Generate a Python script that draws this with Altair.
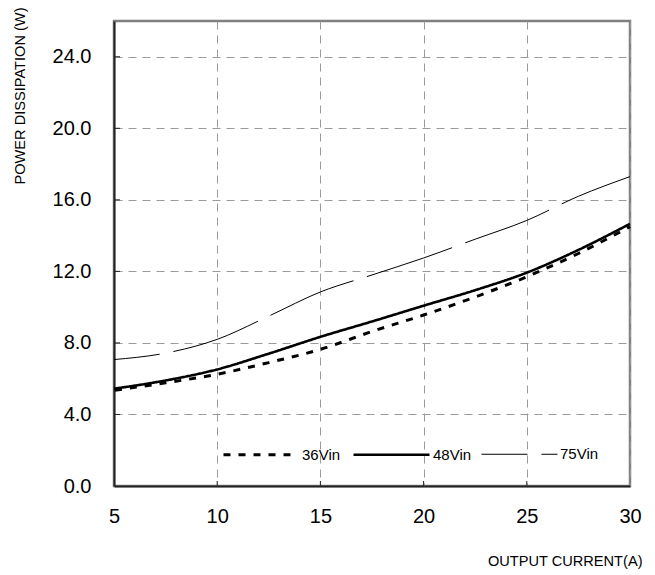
import altair as alt
import pandas as pd

current = [5, 7.5, 10, 12.5, 15, 17.5, 20, 22.5, 25, 27.5, 30]
v36 = [5.35, 5.77, 6.25, 6.9, 7.64, 8.64, 9.56, 10.57, 11.7, 13.0, 14.5]
v48 = [5.44, 5.9, 6.52, 7.4, 8.34, 9.2, 10.08, 10.95, 11.93, 13.2, 14.66]
v75 = [7.07, 7.43, 8.2, 9.5, 10.85, 11.8, 12.75, 13.8, 14.85, 16.2, 17.3]
series = ["36Vin", "48Vin", "75Vin"]
x_ticks = [5, 10, 15, 20, 25, 30]
y_ticks = [0, 4, 8, 12, 16, 20, 24]

rows = []
for name, vals in zip(series, [v36, v48, v75]):
    for c, v in zip(current, vals):
        rows.append({"current": c, "power": v, "series": name})
df = pd.DataFrame(rows)

FONT = "Liberation Sans"

leg = alt.Legend(
    title=None, orient="none", legendX=107, legendY=394, direction="horizontal",
    symbolType="stroke", symbolSize=5776, symbolDashOffset=44,
    labelFontSize=15, labelFont=FONT, labelColor="black", labelOffset=2,
    columnPadding=7, padding=0,
)

xscale = alt.Scale(domain=[5, 30], nice=False)
yscale = alt.Scale(domain=[0, 26], nice=False)

xaxis = alt.Axis(values=x_ticks, labelFlush=False, labelPadding=20,
                 title="OUTPUT CURRENT(A)", titleAnchor="end", titleAlign="right",
                 titleX=528, titleY=79, titleBaseline="alphabetic")
yaxis = alt.Axis(values=y_ticks, format=".1f", labelPadding=23,
                 title="POWER DISSIPATION (W)", titleAlign="right",
                 titleX=-90, titleY=-14, titleBaseline="alphabetic")

lines = alt.Chart(df).mark_line(
    interpolate="monotone", strokeDashOffset=44, strokeCap="butt"
).encode(
    x=alt.X("current:Q", scale=xscale, axis=xaxis),
    y=alt.Y("power:Q", scale=yscale, axis=yaxis),
    color=alt.Color("series:N", scale=alt.Scale(domain=series, range=["black", "black", "black"]), legend=leg),
    strokeDash=alt.StrokeDash("series:N", scale=alt.Scale(domain=series, range=[[7, 8], [1, 0], [90, 14]]), legend=leg),
    strokeWidth=alt.StrokeWidth("series:N", scale=alt.Scale(type="ordinal", domain=series, range=[3, 2.6, 1]), legend=leg),
)

xt = alt.Chart(pd.DataFrame({"current": x_ticks[1:-1]})).mark_rule(color="#222222", strokeWidth=1).encode(
    x=alt.X("current:Q", scale=xscale, axis=xaxis),
    y=alt.value(465), y2=alt.value(460),
)
yt = alt.Chart(pd.DataFrame({"power": y_ticks[1:]})).mark_rule(color="#222222", strokeWidth=1).encode(
    y=alt.Y("power:Q", scale=yscale, axis=yaxis),
    x=alt.value(0), x2=alt.value(6),
)

chart = alt.layer(lines, xt, yt).properties(
    width=516, height=465, autosize="none",
    padding={"left": 114, "top": 21, "right": 25, "bottom": 89},
).configure_view(
    stroke="#808080", strokeWidth=2.5
).configure_axis(
    grid=True, gridColor="#9a9a9a", gridDash=[8, 6], gridWidth=1,
    domainColor="#222222", domainWidth=2, ticks=False,
    labelFont=FONT, labelFontSize=20, labelColor="black",
    titleFont=FONT, titleFontSize=14.6, titleFontWeight="normal", titleColor="black",
)

chart.save("out.html", embed_options={"renderer": "svg", "actions": False})
